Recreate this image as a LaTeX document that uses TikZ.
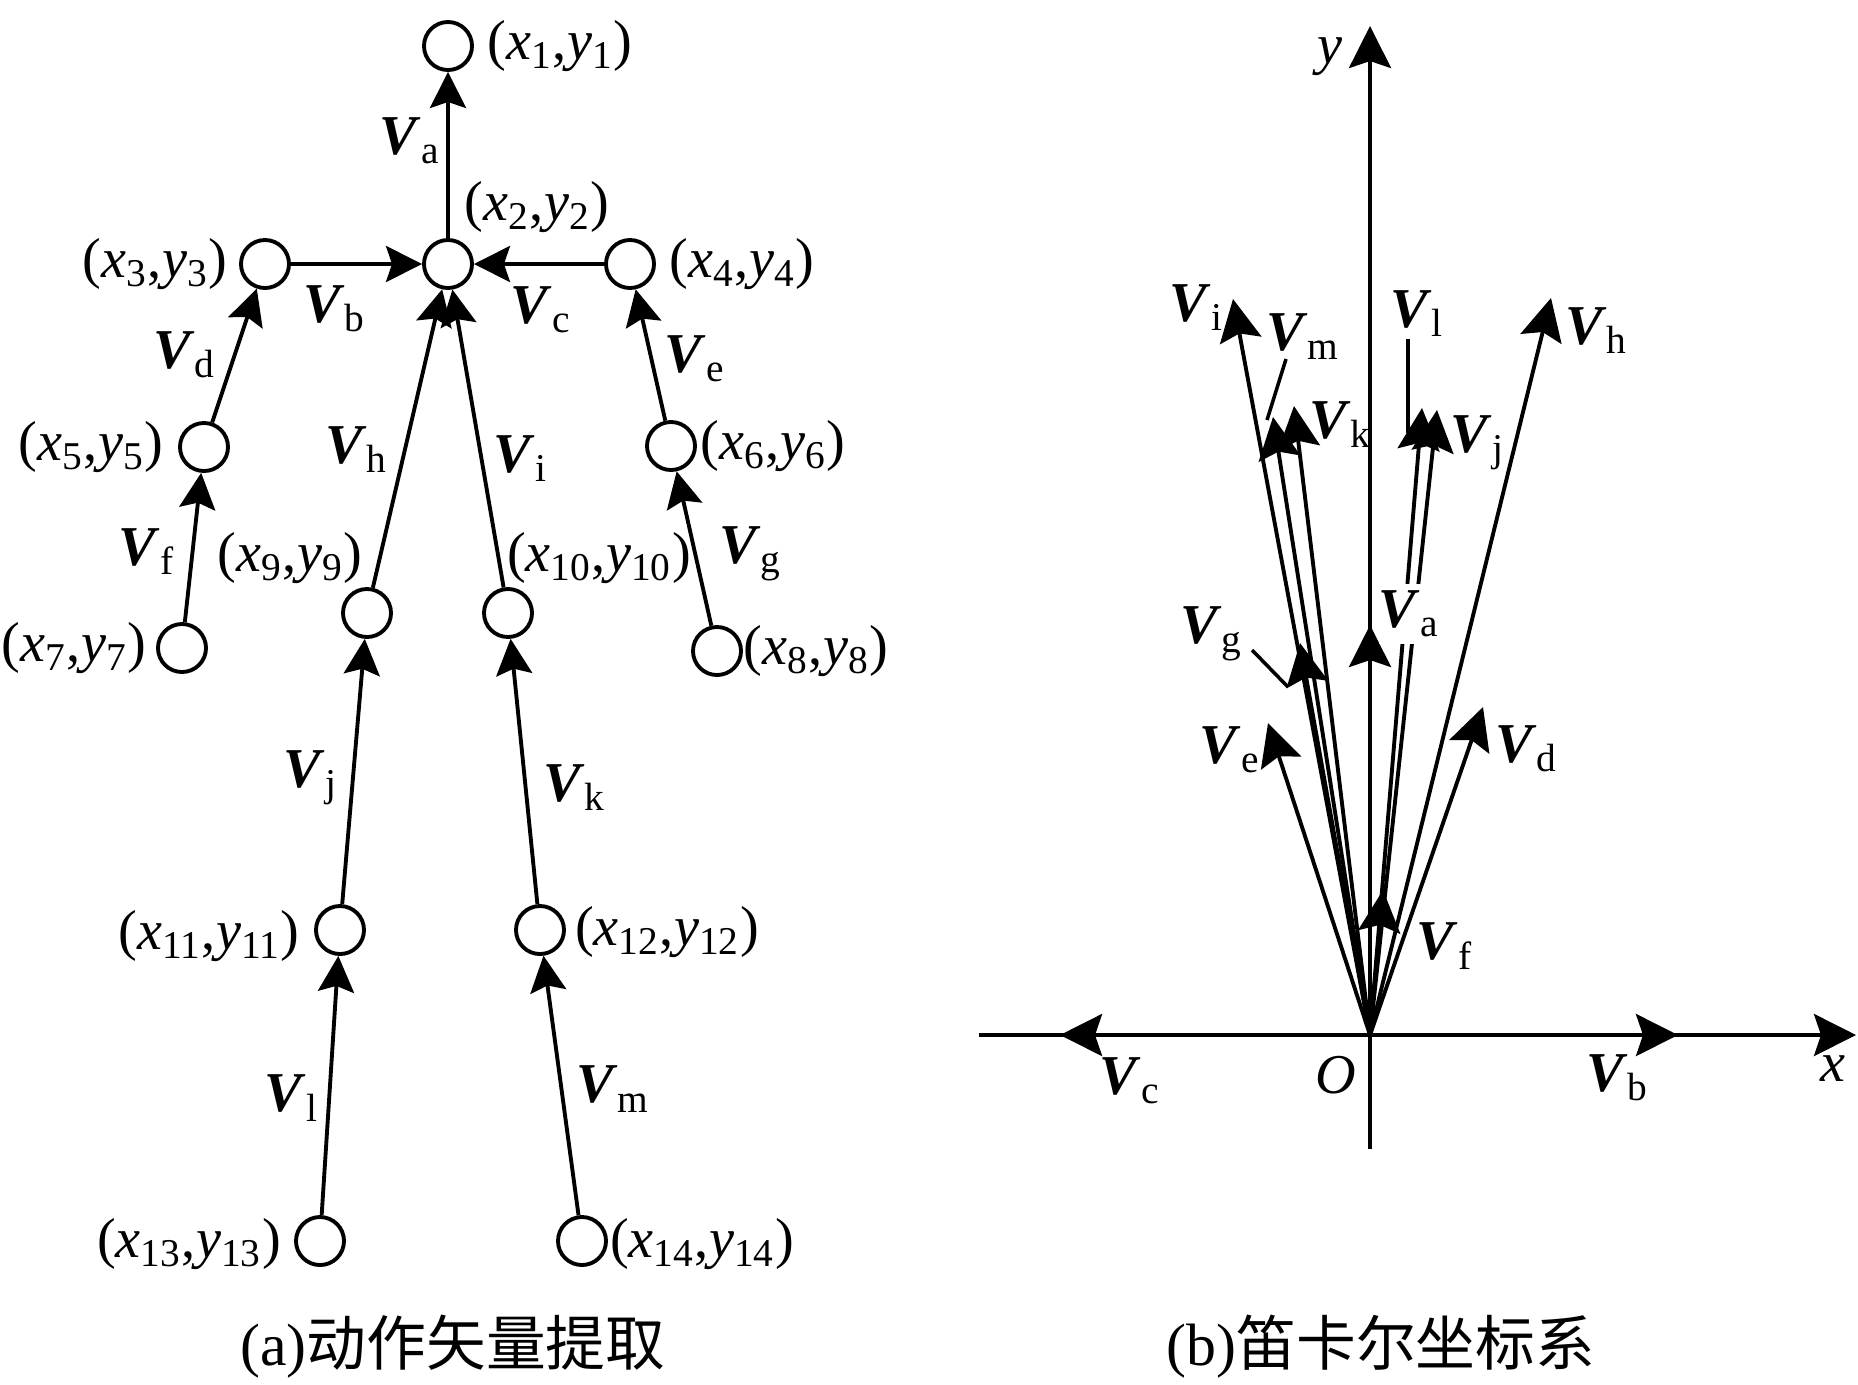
\documentclass[tikz,border=0pt]{standalone}
\usepackage{fontspec}
\setmainfont{Liberation Serif}
\newfontfamily\cjkfont{Noto Sans CJK SC}
\usetikzlibrary{arrows.meta}

\newcommand{\jointxy}[1]{(\textit{x}\textsubscript{#1},\textit{y}\textsubscript{#1})}
\newcommand{\vname}[1]{\textbf{\textit{V}}\textsubscript{#1}}

\begin{document}
\begin{tikzpicture}[x=0.01cm, y=-0.01cm, line width=1.1pt,
    font=\fontsize{16}{19}\selectfont,
    joint/.style={circle, draw, minimum size=0.48cm, inner sep=0pt},
    tag/.style={inner sep=0pt},
    vec/.style={-{Stealth[length=3.6mm, width=3.6mm, inset=0.6mm]}},
    bigvec/.style={-{Stealth[length=4.2mm, width=4.2mm, inset=0.7mm]}}]
\useasboundingbox (0,0) rectangle (1858,1384);

% (a) skeleton joints
\foreach \n/\x/\y in {1/448/46, 2/448/264, 3/265/264, 4/630/264, 5/204/447, 6/671/446,
    7/182/648, 8/717/651, 9/367/613, 10/508/613, 11/340/930, 12/540/930, 13/320/1241, 14/582/1241} {
    \node[joint] (p\n) at (\x,\y) {};
}
% joint coordinates
\foreach \n/\x/\y in {1/560/46, 2/537/207, 3/155/264, 4/742/264, 5/91/447, 6/773/446,
    7/74/648, 8/816/651, 9/290/558, 10/599/558, 11/209/936, 12/667/932, 13/189/1244, 14/702/1244} {
    \node[tag] (t\n) at (\x,\y) {\jointxy{\n}};
}
% action vectors
\foreach \a/\b in {2/1, 3/2, 4/2, 5/3, 6/4, 7/5, 8/6, 9/2, 10/2, 11/9, 12/10, 13/11, 14/12} {
    \draw[vec] (p\a) -- (p\b);
}
\foreach \n/\x/\y in {a/410/141, b/335/309, c/541/310, d/185/355, e/695/359, f/147/552, g/751/554,
    h/357/450, i/521/459, j/311/778, k/575/788, l/292/1098, m/613/1089} {
    \node[tag] (l\n) at (\x,\y) {\vname{\n}};
}
\node[tag, font=\fontsize{17}{20}\selectfont] (capa) at (453,1347) {(a)\cjkfont 动作矢量提取};

% (b) Cartesian frame
\coordinate (O) at (1370,1035);
\coordinate (xmin) at (979,1035);
\coordinate (xmax) at (1856,1035);
\coordinate (ymin) at (1370,1149);
\coordinate (ymax) at (1370,26);
\draw[bigvec] (xmin) -- (xmax);
\draw[bigvec] (ymin) -- (ymax);
\node[tag] (ax) at (1833,1069) {\textit{x}};
\node[tag] (ay) at (1330,57) {\textit{y}};
\node[tag] (ao) at (1336,1075) {\textit{O}};

% vectors moved to the origin
\foreach \n/\x/\y in {a/1370/625, b/1678/1035, c/1060/1035, d/1483/707, e/1268/723, f/1383/890,
    g/1300/643, h/1551/298, i/1233/299, j/1437/410, k/1294/406, l/1422/408, m/1273/417} {
    \coordinate (tip\n) at (\x,\y);
    \draw[bigvec] (O) -- (tip\n);
}
\foreach \n/\x/\y in {b/1618/1078, c/1130/1081, d/1527/749, e/1230/750, f/1445/946, g/1212/634,
    h/1597/331, i/1197/308, j/1478/443, k/1341/425, l/1417/314, m/1303/337} {
    \node[tag] (v\n) at (\x,\y) {\vname{\n}};
}
\node[tag, fill=white, inner ysep=2pt] (va) at (1409,614) {\vname{a}};

% leader lines
\coordinate (mfrom) at (1286,359); \coordinate (mto) at (1267,420);
\coordinate (lfrom) at (1408,339); \coordinate (lto) at (1408,433);
\coordinate (gfrom) at (1252,650); \coordinate (gto) at (1288,687);
\draw[line width=1pt] (mfrom) -- (mto);
\draw[line width=1pt] (lfrom) -- (lto);
\draw[line width=1pt] (gfrom) -- (gto);

\node[tag, font=\fontsize{17}{20}\selectfont] (capb) at (1381,1347) {(b)\cjkfont 笛卡尔坐标系};
\end{tikzpicture}
\end{document}
